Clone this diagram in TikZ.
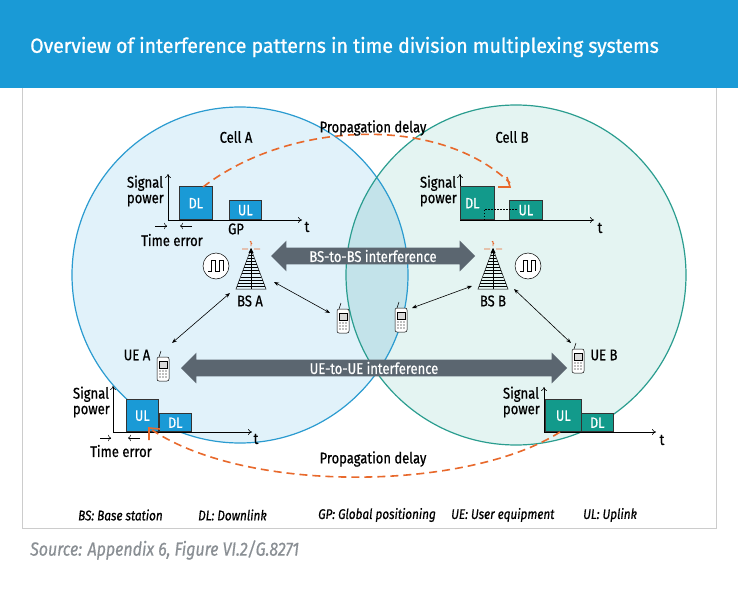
\documentclass[tikz,border=0pt]{standalone}
\usepackage{fontspec}
\setmainfont[FakeStretch=0.84, FakeBold=0.6]{Fira Sans}
\newfontfamily\titlefont[FakeStretch=0.95, FakeBold=0.8]{Fira Sans}
\usetikzlibrary{arrows.meta,shapes.arrows}
\definecolor{banner}{HTML}{1A9AD6}
\definecolor{cellA}{HTML}{E1F2FA}
\definecolor{cellB}{HTML}{E4F4F2}
\definecolor{overl}{HTML}{C3E3EA}
\definecolor{lineA}{HTML}{2A9BD0}
\definecolor{lineB}{HTML}{2A9D8F}
\definecolor{boxA}{HTML}{1A9AD6}
\definecolor{boxB}{HTML}{129A8B}
\definecolor{orng}{HTML}{E8692C}
\definecolor{bigarr}{HTML}{5B6670}
\definecolor{srcgrey}{HTML}{8A8F94}
\tikzset{
 lbl/.style={font=\fontsize{15.5}{15.5}\selectfont, inner sep=0pt},
 lbls/.style={font=\fontsize{15.5}{15.5}\selectfont, inner sep=0pt, align=left},
 blk/.style={draw=black!80, line width=0.6pt},
 ax/.style={-{To[length=4pt,width=6pt]}, line width=0.6pt},
 prop/.style={orng, line width=1.6pt, dash pattern=on 8pt off 5pt},
 link/.style={{Stealth[length=5pt]}-{Stealth[length=5pt]}, line width=0.6pt},
 big/.style={single arrow, double arrow, fill=bigarr, text=white, font=\fontsize{15.5}{15.5}\selectfont, minimum height=#1, single arrow head extend=4pt, inner sep=2pt},
 boxtxt/.style={text=white, font=\fontsize{15}{15}\selectfont}
}
\newcommand{\phoneA}[1]{%
 \begin{scope}[shift={#1}]
  \draw[line width=0.5pt, fill=white, rounded corners=2pt] (-6,-11) rectangle (6,13);
  \draw[line width=0.5pt] (-4,-11) -- (-2,-17);
  \draw[line width=0.4pt, fill=gray!30] (-4,-7) rectangle (4,0);
  \foreach \i in {-3,0,3}{\foreach \j in {3,6,9}{\fill[gray] (\i,\j) circle (0.8);}}
 \end{scope}}
\newcommand{\tower}[1]{%
 \begin{scope}[shift={#1}]
  \draw[line width=0.5pt] (0,0) -- (-15,40) -- (15,40) -- cycle;
  \draw[line width=0.5pt] (0,0) -- (0,40);
  \foreach \k in {1,...,12}{\draw[line width=0.35pt] (-15*\k/13,40*\k/13) -- (15*\k/13,40*\k/13);}
  \fill (0,-1) -- (-2.5,4) -- (2.5,4) -- cycle;
  \draw[orng, line width=0.8pt] (-9,0) -- (-3,0) (3,0) -- (9,0) (0,-3) -- (0,-8) (-1,-8) -- (1,-5);
 \end{scope}}
\newcommand{\clock}[1]{%
 \begin{scope}[shift={#1}]
  \draw[line width=0.5pt, fill=white] (0,0) circle (13);
  \draw[line width=0.5pt] (-8,5) -- (-5,5) -- (-5,-6) -- (-1,-6) -- (-1,5) -- (3,5) -- (3,-6) -- (7,-6) -- (7,5);
 \end{scope}}
\begin{document}
\begin{tikzpicture}[x=1pt,y=-1pt]
\useasboundingbox (0,0) rectangle (738,591);
\fill[white] (0,0) rectangle (738,591);
\fill[banner] (0,0) rectangle (738,88);
\node[anchor=west, text=white, font=\titlefont\fontsize{20.5}{21}\selectfont, inner sep=0pt] (title) at (30,47) {Overview of interference patterns in time division multiplexing systems};
\draw[gray!40, line width=0.6pt] (22,88) -- (22,528) -- (716,528) -- (716,88);
% cells
\fill[cellA] (240,275) circle (168);
\fill[cellB] (516,275) circle (170);
\begin{scope}\clip (240,275) circle (168); \fill[overl] (516,275) circle (170);\end{scope}
\draw[lineA, line width=1.2pt] (240,275) circle (168);
\draw[lineB, line width=1.2pt] (516,275) circle (170);
\node[lbl] (cellAl) at (236,137) {Cell A};
\node[lbl] (cellBl) at (512,137) {Cell B};
% top-left chart
\coordinate (o1) at (168,220);
\draw[ax] (o1) -- (168,174);
\draw[ax] (o1) -- (302,220);
\node[lbl] (t1) at (307,227) {t};
\node[blk, fill=boxA, minimum width=33pt, minimum height=33pt, anchor=south west, boxtxt] (dlA) at (179,220) {DL};
\node[blk, fill=boxA, minimum width=32pt, minimum height=19pt, anchor=south west, boxtxt] (ulA) at (229,220) {UL};
\node[lbls, anchor=east] (spA) at (164,191) {Signal\\power};
\node[lbl] (gp) at (236,229) {GP};
\node[lbl] (teA) at (172,240) {Time error};
\draw[-{To[length=3pt]}, line width=0.5pt] (155,226) -- (167,226);
\draw[-{To[length=3pt]}, line width=0.5pt] (192,226) -- (180,226);
% top-right chart
\coordinate (o2) at (460,220);
\draw[ax] (o2) -- (460,174);
\draw[ax] (o2) -- (594,220);
\node[lbl] (t2) at (600,228) {t};
\node[blk, fill=boxB, minimum width=34pt, minimum height=33pt, anchor=south west, boxtxt] (dlB) at (460,220) {\hspace*{-10pt}DL};
\node[blk, fill=boxB, minimum width=33pt, minimum height=19pt, anchor=south west, boxtxt] (ulB) at (509,220) {UL};
\draw[line width=0.5pt, dash pattern=on 1.5pt off 1.5pt] (484,220) -- (484,209) -- (518,209) (494,220) -- (509,220);
\node[lbls, anchor=east] (spB) at (457,191) {Signal\\power};
% propagation delays
\draw[prop] (203,187) .. controls (290,120) and (440,115) .. (510,183);
\draw[orng, line width=1.6pt] (498,187) -- (510,187) -- (507,177);
\node[lbl] (pdT) at (373,128) {Propagation delay};
% BS
\tower{(251,249)}
\tower{(493,249)}
\node[lbl] (bsAl) at (250,301) {BS A};
\node[lbl] (bsBl) at (493,301) {BS B};
\clock{(216,266)}
\clock{(528,266)}
\node[big=204pt, minimum width=27pt] (bsbs) at (373,256) {BS-to-BS interference};
\node[big=386pt, minimum width=27pt] (ueue) at (374,368) {UE-to-UE interference};
% phones
\phoneA{(163,368)}
\phoneA{(343,320)}
\phoneA{(401,319)}
\phoneA{(578,360)}
\node[lbl] (ueAl) at (137,355) {UE A};
\node[lbl] (ueBl) at (604,355) {UE B};
\draw[link] (172,343) -- (230,293);
\draw[link] (274,282) -- (330,313);
\draw[link] (412,308) -- (472,286);
\draw[link] (514,289) -- (571,343);
% bottom-left chart
\draw[ax] (113,432) -- (113,386);
\draw[ax] (113,432) -- (252,432);
\node[lbl] (t3) at (256,439) {t};
\node[blk, fill=boxA, minimum width=32pt, minimum height=32pt, anchor=south west, boxtxt] (ulA2) at (126,432) {UL};
\node[blk, fill=boxA, minimum width=32pt, minimum height=18pt, anchor=south west, boxtxt] (dlA2) at (159,432) {DL};
\node[lbls, anchor=east] (spA2) at (110,402) {Signal\\power};
\node[lbl] (teA2) at (121,451) {Time error};
\draw[-{To[length=3pt]}, line width=0.5pt] (100,438) -- (111,438);
\draw[-{To[length=3pt]}, line width=0.5pt] (140,438) -- (128,438);
% bottom-right chart
\draw[ax] (544,432) -- (544,387);
\draw[ax] (544,432) -- (656,432);
\node[lbl] (t4) at (662,440) {t};
\node[blk, fill=boxB, minimum width=36pt, minimum height=32pt, anchor=south west, boxtxt] (ulB2) at (545,432) {UL};
\node[blk, fill=boxB, minimum width=32pt, minimum height=18pt, anchor=south west, boxtxt] (dlB2) at (581,432) {DL};
\node[lbls, anchor=east] (spB2) at (540,402) {Signal\\power};
\draw[prop] (560,432) .. controls (470,490) and (250,495) .. (152,430);
\draw[orng, line width=1.6pt] (149,440) -- (149,428) -- (160,429);
\node[lbl] (pdB) at (373,459) {Propagation delay};
% legend
\begin{scope}[every node/.style={font=\itshape\fontsize{14}{14}\selectfont, inner sep=0pt, anchor=west}]
\node (l1) at (78,515) {BS: Base station};
\node (l2) at (198,515) {DL: Downlink};
\node (l3) at (318,515) {GP: Global positioning};
\node (l4) at (451,515) {UE: User equipment};
\node (l5) at (583,515) {UL: Uplink};
\end{scope}
\node[anchor=west, inner sep=0pt, text=srcgrey, font=\itshape\fontsize{19}{19}\selectfont] (src) at (30,550) {Source: Appendix 6, Figure VI.2/G.8271};
\end{tikzpicture}
\end{document}
